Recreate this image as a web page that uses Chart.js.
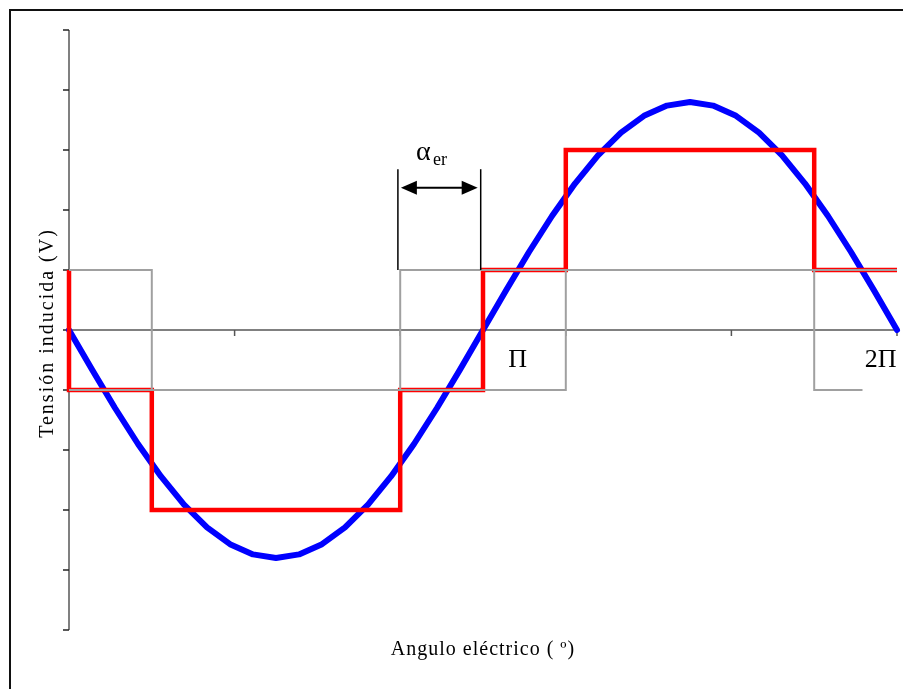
<!DOCTYPE html>
<html>
<head>
<meta charset="utf-8">
<script src="https://cdn.jsdelivr.net/npm/chart.js@4.4.1/dist/chart.umd.min.js"></script>
<style>
  html, body { margin: 0; padding: 0; background: #fff; }
  canvas { display: block; }
</style>
</head>
<body>
<canvas id="emfChart" width="903" height="689"></canvas>
<script>
// electrical angle in degrees for the sampled back-EMF
const angleDeg = [0, 10, 20, 30, 40, 50, 60, 70, 80, 90, 100, 110, 120, 130, 140, 150, 160, 170, 180,
                  190, 200, 210, 220, 230, 240, 250, 260, 270, 280, 290, 300, 310, 320, 330, 340, 350, 360];
// induced voltage (blue curve)
const emfVolts = [0, -0.66, -1.30, -1.90, -2.44, -2.91, -3.29, -3.57, -3.74, -3.80, -3.74, -3.57, -3.29, -2.91, -2.44, -1.90, -1.30, -0.66, 0,
                  0.66, 1.30, 1.90, 2.44, 2.91, 3.29, 3.57, 3.74, 3.80, 3.74, 3.57, 3.29, 2.91, 2.44, 1.90, 1.30, 0.66, 0];

// stepped resultant (red)
const stepX = [0, 0, 36, 36, 144, 144, 180, 180, 216, 216, 324, 324, 360];
const stepY = [1, -1, -1, -3, -3, -1, -1, 1, 1, 3, 3, 1, 1];

// the two square-wave components (gray)
const phaseAX = [0, 36, 36, 216, 216, 360];
const phaseAY = [1, 1, -1, -1, 1, 1];
const phaseBX = [0, 144, 144, 324, 324, 345];
const phaseBY = [-1, -1, 1, 1, -1, -1];

const xTicks = [0, 72, 144, 216, 288, 360];
const yTicks = [-5, -4, -3, -2, -1, 0, 1, 2, 3, 4, 5];

const toPts = (xs, ys) => xs.map((x, i) => ({ x, y: ys[i] }));

const SERIF = '"Liberation Serif", "Times New Roman", serif';

function line(ctx, x1, y1, x2, y2) {
  ctx.beginPath();
  ctx.moveTo(x1, y1);
  ctx.lineTo(x2, y2);
  ctx.stroke();
}

// frame, axes and tick marks under the data
const axesPlugin = {
  id: 'axesPlugin',
  beforeDatasetsDraw(chart) {
    const { ctx, scales: { x, y } } = chart;
    const x0 = x.getPixelForValue(0);
    const x1 = x.getPixelForValue(360);
    const y0 = y.getPixelForValue(0);
    ctx.save();

    ctx.strokeStyle = '#111';
    ctx.lineWidth = 2;
    ctx.strokeRect(10, 10, chart.width + 20, chart.height + 20);

    ctx.strokeStyle = '#808080';
    ctx.lineWidth = 2;
    line(ctx, x0, y.getPixelForValue(5), x0, y.getPixelForValue(-5));
    ctx.strokeStyle = '#222';
    ctx.lineWidth = 1.5;
    yTicks.forEach(v => {
      const py = Math.round(y.getPixelForValue(v));
      line(ctx, x0 - 6, py, x0, py);
    });

    ctx.strokeStyle = '#808080';
    ctx.lineWidth = 2;
    line(ctx, x0, y0, x1, y0);
    ctx.strokeStyle = '#555';
    ctx.lineWidth = 1.5;
    xTicks.slice(1).forEach(v => {
      const px = x.getPixelForValue(v);
      line(ctx, px, y0, px, y0 + 6);
    });
    ctx.restore();
  },
  afterDatasetsDraw(chart) {
    const { ctx, scales: { x, y } } = chart;
    ctx.save();
    ctx.fillStyle = '#000';

    // axis titles
    ctx.font = '20px ' + SERIF;
    ctx.letterSpacing = '2px';
    ctx.textAlign = 'center';
    ctx.textBaseline = 'middle';
    ctx.save();
    ctx.translate(48, y.getPixelForValue(-0.05));
    ctx.rotate(-Math.PI / 2);
    ctx.fillText('Tensión inducida (V)', 0, 0);
    ctx.restore();
    ctx.letterSpacing = '1px';
    ctx.fillText('Angulo eléctrico ( º)', x.getPixelForValue(180), 650);
    ctx.letterSpacing = '0px';

    // angle labels
    ctx.font = '26px ' + SERIF;
    ctx.textAlign = 'left';
    ctx.textBaseline = 'alphabetic';
    ctx.fillText('Π', x.getPixelForValue(191), y.getPixelForValue(-0.62));
    ctx.fillText('2Π', x.getPixelForValue(346), y.getPixelForValue(-0.62));

    // alpha_er span marker
    const ax1 = x.getPixelForValue(143);
    const ax2 = x.getPixelForValue(179);
    const top = y.getPixelForValue(2.68);
    const bot = y.getPixelForValue(1);
    ctx.strokeStyle = '#000';
    ctx.lineWidth = 1.5;
    line(ctx, ax1, top, ax1, bot);
    line(ctx, ax2, top, ax2, bot);
    const ay = y.getPixelForValue(2.37);
    ctx.lineWidth = 2;
    line(ctx, ax1 + 12, ay, ax2 - 12, ay);
    [[ax1 + 3, 1], [ax2 - 3, -1]].forEach(([tip, dir]) => {
      ctx.beginPath();
      ctx.moveTo(tip, ay);
      ctx.lineTo(tip + dir * 16, ay - 7);
      ctx.lineTo(tip + dir * 16, ay + 7);
      ctx.closePath();
      ctx.fill();
    });
    ctx.font = '28px ' + SERIF;
    ctx.fillText('α', 416, 160);
    ctx.font = '18px ' + SERIF;
    ctx.fillText('er', 433, 165);
    ctx.restore();
  }
};

new Chart(document.getElementById('emfChart'), {
  type: 'scatter',
  data: {
    datasets: [
      {
        label: 'Fase A',
        data: toPts(phaseAX, phaseAY),
        showLine: true,
        borderColor: '#a0a0a0',
        borderWidth: 2,
        pointRadius: 0,
        clip: 6
      },
      {
        label: 'Fase B',
        data: toPts(phaseBX, phaseBY),
        showLine: true,
        borderColor: '#a0a0a0',
        borderWidth: 2,
        pointRadius: 0,
        clip: 6
      },
      {
        label: 'Resultante',
        data: toPts(stepX, stepY),
        showLine: true,
        borderColor: '#ff0000',
        borderWidth: 4.5,
        borderJoinStyle: 'miter',
        pointRadius: 0,
        clip: 6
      },
      {
        label: 'FEM',
        data: toPts(angleDeg, emfVolts),
        showLine: true,
        borderColor: '#0000ff',
        borderWidth: 6,
        borderJoinStyle: 'round',
        borderCapStyle: 'round',
        pointRadius: 0,
        clip: 8
      }
    ]
  },
  options: {
    responsive: false,
    animation: false,
    events: [],
    layout: { padding: { left: 69, right: 6, top: 30, bottom: 59 } },
    plugins: {
      legend: { display: false },
      tooltip: { enabled: false }
    },
    scales: {
      x: { type: 'linear', min: 0, max: 360, display: false },
      y: { type: 'linear', min: -5, max: 5, display: false }
    }
  },
  plugins: [axesPlugin]
});
</script>
</body>
</html>
